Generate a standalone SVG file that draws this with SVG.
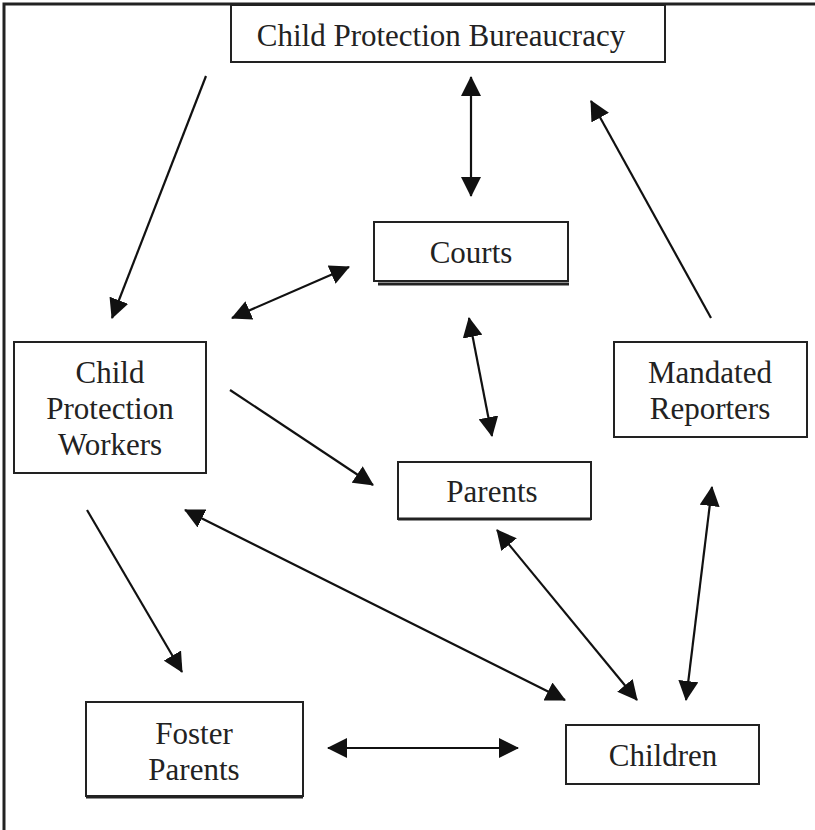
<svg xmlns="http://www.w3.org/2000/svg" width="815" height="830" viewBox="0 0 815 830">
<style>
.box{fill:#fff;stroke:#222;stroke-width:2}
.lbl{font-family:"Liberation Serif","Times New Roman",serif;font-size:31px;fill:#222;text-anchor:middle}
.con{stroke:#111;stroke-width:2.2;fill:none}
.one{marker-end:url(#ah)}
.two{marker-start:url(#ah);marker-end:url(#ah)}
</style>
<defs>
<marker id="ah" viewBox="0 0 20 20" refX="19" refY="10" markerWidth="20" markerHeight="20" markerUnits="userSpaceOnUse" orient="auto-start-reverse">
<path d="M0,0 L20,10 L0,20 z" fill="#111"/>
</marker>
</defs>
<rect width="815" height="830" fill="#fff"/>
<path d="M4,830 V4 H815" fill="none" stroke="#222" stroke-width="3"/>

<g id="bureaucracy">
<rect class="box" x="231" y="5" width="434" height="57"/>
<text class="lbl" x="441" y="46">Child Protection Bureaucracy</text>
</g>
<g id="courts">
<line x1="378" y1="284" x2="569" y2="284" stroke="#222" stroke-width="3"/>
<rect class="box" x="374" y="222" width="194" height="59"/>
<text class="lbl" x="471" y="263">Courts</text>
</g>
<g id="workers">
<rect class="box" x="14" y="342" width="192" height="131"/>
<text class="lbl" x="110" y="383">Child</text>
<text class="lbl" x="110" y="419">Protection</text>
<text class="lbl" x="110" y="455">Workers</text>
</g>
<g id="reporters">
<rect class="box" x="614" y="342" width="193" height="95"/>
<text class="lbl" x="710" y="383">Mandated</text>
<text class="lbl" x="710" y="419">Reporters</text>
</g>
<g id="parents">
<rect class="box" x="398" y="462" width="193" height="57"/>
<line x1="398" y1="519" x2="591" y2="519" stroke="#222" stroke-width="3"/>
<text class="lbl" x="492" y="502">Parents</text>
</g>
<g id="foster">
<rect class="box" x="86" y="702" width="217" height="94"/>
<line x1="86" y1="797" x2="303" y2="797" stroke="#222" stroke-width="3"/>
<text class="lbl" x="194" y="744">Foster</text>
<text class="lbl" x="194" y="780">Parents</text>
</g>
<g id="children">
<rect class="box" x="566" y="725" width="193" height="59"/>
<text class="lbl" x="663" y="766">Children</text>
</g>

<g id="connectors">
<line class="con one" x1="206" y1="76" x2="112" y2="318"/>
<line class="con two" x1="471" y1="77" x2="471" y2="196"/>
<line class="con one" x1="711" y1="318" x2="591" y2="101"/>
<line class="con two" x1="232" y1="318" x2="349" y2="267"/>
<line class="con two" x1="469" y1="318" x2="492" y2="436"/>
<line class="con one" x1="230" y1="390" x2="373" y2="485"/>
<line class="con two" x1="185" y1="510" x2="565" y2="700"/>
<line class="con two" x1="497" y1="530" x2="637" y2="700"/>
<line class="con two" x1="712" y1="487" x2="686" y2="700"/>
<line class="con one" x1="87" y1="510" x2="182" y2="672"/>
<line class="con two" x1="328" y1="748" x2="518" y2="748"/>
</g>
</svg>
